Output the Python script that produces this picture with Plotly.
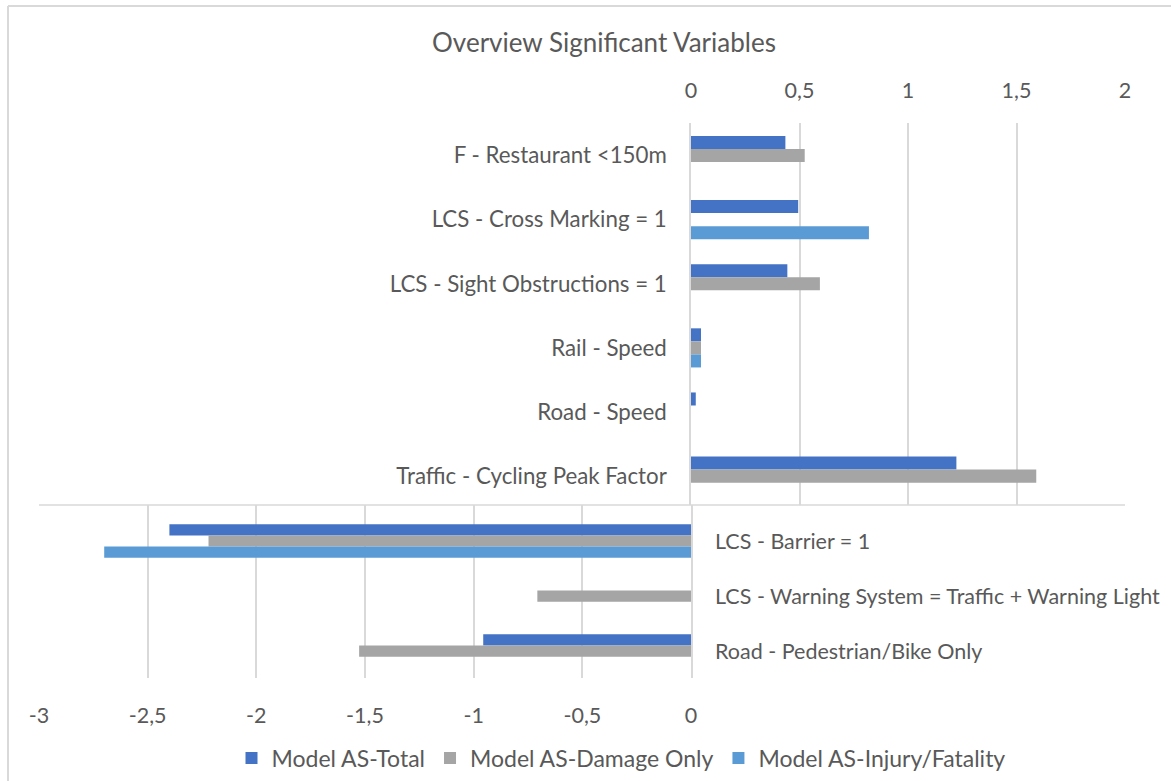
import plotly.graph_objects as go

# ---- data ----
pos_categories = ["F - Restaurant <150m", "LCS - Cross Marking = 1", "LCS - Sight Obstructions = 1",
                  "Rail - Speed", "Road - Speed", "Traffic - Cycling Peak Factor"]
pos_total = [0.435, 0.494, 0.444, 0.046, 0.022, 1.223]
pos_damage = [0.524, None, 0.594, 0.046, None, 1.591]
pos_injury = [None, 0.82, None, 0.046, None, None]

neg_categories = ["LCS - Barrier = 1", "LCS - Warning System = Traffic + Warning Light",
                  "Road - Pedestrian/Bike Only"]
neg_total = [-2.40, None, -0.956]
neg_damage = [-2.22, -0.707, -1.527]
neg_injury = [-2.70, None, None]

series_names = ["Model AS-Total", "Model AS-Damage Only", "Model AS-Injury/Fatality"]
series_colors = ["#4472C4", "#A5A5A5", "#5B9BD5"]

top_ticks = [0, 0.5, 1, 1.5, 2]
top_tick_labels = ["0", "0,5", "1", "1,5", "2"]
bottom_ticks = [-3, -2.5, -2, -1.5, -1, -0.5, 0]
bottom_tick_labels = ["-3", "-2,5", "-2", "-1,5", "-1", "-0,5", "0"]

W, H = 1171, 781
def px(x):
    return x / W
def py(y):
    return 1 - y / H

FONT = "Lato"
TXT = "#595959"
GRID = "#D9D9D9"
FS = 21.5

fig = go.Figure()
for name, col, vals in zip(series_names, series_colors, [pos_total, pos_damage, pos_injury]):
    fig.add_trace(go.Bar(y=pos_categories, x=vals, orientation="h", name=name,
                         marker=dict(color=col, line=dict(width=0)),
                         xaxis="x", yaxis="y", legendgroup=name, showlegend=True))
for name, col, vals in zip(series_names, series_colors, [neg_total, neg_damage, neg_injury]):
    fig.add_trace(go.Bar(y=neg_categories, x=vals, orientation="h", name=name,
                         marker=dict(color=col, line=dict(width=0)),
                         xaxis="x2", yaxis="y2", legendgroup=name, showlegend=False))

fig.update_layout(
    width=W, height=H, autosize=False,
    margin=dict(l=0, r=0, t=0, b=0, autoexpand=False),
    paper_bgcolor="white", plot_bgcolor="rgba(0,0,0,0)",
    barmode="group", bargap=0.39, bargroupgap=0,
    font=dict(family=FONT, color=TXT, size=FS),
    title=dict(text="Overview Significant Variables", x=px(604), xanchor="center",
               y=py(43), yanchor="middle", font=dict(size=26, color=TXT, family=FONT)),
    xaxis=dict(domain=[px(691), px(1125)], range=[0, 2], side="top", anchor="y",
               tickvals=top_ticks, ticktext=top_tick_labels,
               showgrid=True, gridcolor=GRID, gridwidth=1.5,
               zeroline=False, showline=False, ticks="", ticklabelstandoff=20,
               tickfont=dict(size=FS, color=TXT)),
    yaxis=dict(domain=[py(505), py(123)], range=[5.45, -0.507], anchor="x",
               categoryorder="array", categoryarray=pos_categories,
               showgrid=False, showline=True, linecolor=GRID, linewidth=1.5,
               ticks="", ticklabelstandoff=18, tickfont=dict(size=22.3, color=TXT)),
    xaxis2=dict(domain=[px(39), px(691)], range=[-3, 0], side="bottom", anchor="y2",
                tickvals=bottom_ticks, ticktext=bottom_tick_labels,
                showgrid=True, gridcolor=GRID, gridwidth=1.5,
                zeroline=False, showline=False, ticks="", ticklabelstandoff=22,
                tickfont=dict(size=FS, color=TXT)),
    yaxis2=dict(domain=[py(678), py(505)], range=[2.49, -0.655], anchor="x2", side="right",
                categoryorder="array", categoryarray=neg_categories,
                showgrid=False, showline=True, linecolor=GRID, linewidth=1.5,
                ticks="", ticklabelstandoff=18, tickfont=dict(size=FS, color=TXT)),
    legend=dict(orientation="h", x=px(621), xanchor="center", y=py(758), yanchor="middle",
                font=dict(size=23, color=TXT), itemwidth=30, traceorder="normal",
                bgcolor="rgba(0,0,0,0)"),
    shapes=[
        dict(type="line", xref="paper", yref="paper", x0=px(39), x1=px(1125), y0=py(505), y1=py(505),
             line=dict(color=GRID, width=1.5), layer="below"),
        dict(type="line", xref="paper", yref="paper", x0=px(8), x1=1, y0=py(6), y1=py(6),
             line=dict(color=GRID, width=2)),
        dict(type="line", xref="paper", yref="paper", x0=px(8), x1=px(8), y0=py(6), y1=0,
             line=dict(color=GRID, width=2)),
    ],
)

fig.write_html(
    "out.html",
    config={"responsive": False, "displayModeBar": False},
    post_script="document.body.style.margin='0';document.body.style.overflow='hidden';",
)
